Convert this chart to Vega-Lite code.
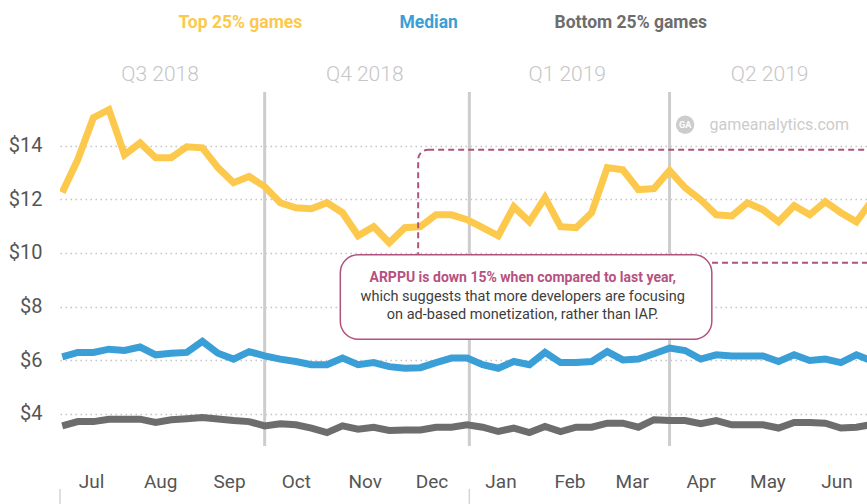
{
  "$schema": "https://vega.github.io/schema/vega-lite/v6.json",
  "width": 812,
  "height": 354,
  "autosize": {"type": "none"},
  "padding": {"left": 60, "top": 92, "right": 0, "bottom": 58},
  "background": "white",
  "config": {
    "view": {"stroke": null},
    "font": "Roboto, sans-serif"
  },
  "datasets": {
    "arppu": [
      {"week": "2018-07-02", "Top 25% games": 12.25, "Median": 6.12, "Bottom 25% games": 3.55},
      {"week": "2018-07-09", "Top 25% games": 13.48, "Median": 6.29, "Bottom 25% games": 3.71},
      {"week": "2018-07-16", "Top 25% games": 15.04, "Median": 6.29, "Bottom 25% games": 3.71},
      {"week": "2018-07-23", "Top 25% games": 15.34, "Median": 6.41, "Bottom 25% games": 3.8},
      {"week": "2018-07-30", "Top 25% games": 13.66, "Median": 6.36, "Bottom 25% games": 3.8},
      {"week": "2018-08-06", "Top 25% games": 14.1, "Median": 6.49, "Bottom 25% games": 3.8},
      {"week": "2018-08-13", "Top 25% games": 13.55, "Median": 6.2, "Bottom 25% games": 3.68},
      {"week": "2018-08-20", "Top 25% games": 13.55, "Median": 6.26, "Bottom 25% games": 3.78},
      {"week": "2018-08-27", "Top 25% games": 13.96, "Median": 6.29, "Bottom 25% games": 3.82},
      {"week": "2018-09-03", "Top 25% games": 13.92, "Median": 6.7, "Bottom 25% games": 3.86},
      {"week": "2018-09-10", "Top 25% games": 13.18, "Median": 6.26, "Bottom 25% games": 3.81},
      {"week": "2018-09-17", "Top 25% games": 12.62, "Median": 6.04, "Bottom 25% games": 3.75},
      {"week": "2018-09-24", "Top 25% games": 12.85, "Median": 6.32, "Bottom 25% games": 3.71},
      {"week": "2018-10-01", "Top 25% games": 12.47, "Median": 6.16, "Bottom 25% games": 3.55},
      {"week": "2018-10-08", "Top 25% games": 11.87, "Median": 6.04, "Bottom 25% games": 3.63},
      {"week": "2018-10-15", "Top 25% games": 11.68, "Median": 5.95, "Bottom 25% games": 3.59},
      {"week": "2018-10-22", "Top 25% games": 11.65, "Median": 5.83, "Bottom 25% games": 3.47},
      {"week": "2018-10-29", "Top 25% games": 11.87, "Median": 5.83, "Bottom 25% games": 3.3},
      {"week": "2018-11-05", "Top 25% games": 11.5, "Median": 6.08, "Bottom 25% games": 3.55},
      {"week": "2018-11-12", "Top 25% games": 10.64, "Median": 5.83, "Bottom 25% games": 3.43},
      {"week": "2018-11-19", "Top 25% games": 10.98, "Median": 5.91, "Bottom 25% games": 3.5},
      {"week": "2018-11-26", "Top 25% games": 10.38, "Median": 5.76, "Bottom 25% games": 3.38},
      {"week": "2018-12-03", "Top 25% games": 10.94, "Median": 5.7, "Bottom 25% games": 3.4},
      {"week": "2018-12-10", "Top 25% games": 10.98, "Median": 5.72, "Bottom 25% games": 3.4},
      {"week": "2018-12-17", "Top 25% games": 11.42, "Median": 5.91, "Bottom 25% games": 3.5},
      {"week": "2018-12-24", "Top 25% games": 11.42, "Median": 6.08, "Bottom 25% games": 3.5},
      {"week": "2018-12-31", "Top 25% games": 11.24, "Median": 6.08, "Bottom 25% games": 3.59},
      {"week": "2019-01-07", "Top 25% games": 10.94, "Median": 5.83, "Bottom 25% games": 3.5},
      {"week": "2019-01-14", "Top 25% games": 10.64, "Median": 5.7, "Bottom 25% games": 3.34},
      {"week": "2019-01-21", "Top 25% games": 11.72, "Median": 5.95, "Bottom 25% games": 3.47},
      {"week": "2019-01-28", "Top 25% games": 11.16, "Median": 5.83, "Bottom 25% games": 3.3},
      {"week": "2019-02-04", "Top 25% games": 12.06, "Median": 6.29, "Bottom 25% games": 3.53},
      {"week": "2019-02-11", "Top 25% games": 10.98, "Median": 5.91, "Bottom 25% games": 3.34},
      {"week": "2019-02-18", "Top 25% games": 10.94, "Median": 5.91, "Bottom 25% games": 3.5},
      {"week": "2019-02-25", "Top 25% games": 11.5, "Median": 5.95, "Bottom 25% games": 3.5},
      {"week": "2019-03-04", "Top 25% games": 13.18, "Median": 6.32, "Bottom 25% games": 3.65},
      {"week": "2019-03-11", "Top 25% games": 13.1, "Median": 6.01, "Bottom 25% games": 3.65},
      {"week": "2019-03-18", "Top 25% games": 12.36, "Median": 6.04, "Bottom 25% games": 3.5},
      {"week": "2019-03-25", "Top 25% games": 12.4, "Median": 6.24, "Bottom 25% games": 3.78},
      {"week": "2019-04-01", "Top 25% games": 13.07, "Median": 6.45, "Bottom 25% games": 3.75},
      {"week": "2019-04-08", "Top 25% games": 12.43, "Median": 6.36, "Bottom 25% games": 3.75},
      {"week": "2019-04-15", "Top 25% games": 11.98, "Median": 6.04, "Bottom 25% games": 3.63},
      {"week": "2019-04-22", "Top 25% games": 11.42, "Median": 6.2, "Bottom 25% games": 3.75},
      {"week": "2019-04-29", "Top 25% games": 11.38, "Median": 6.16, "Bottom 25% games": 3.59},
      {"week": "2019-05-06", "Top 25% games": 11.87, "Median": 6.16, "Bottom 25% games": 3.59},
      {"week": "2019-05-13", "Top 25% games": 11.61, "Median": 6.16, "Bottom 25% games": 3.59},
      {"week": "2019-05-20", "Top 25% games": 11.16, "Median": 5.95, "Bottom 25% games": 3.47},
      {"week": "2019-05-27", "Top 25% games": 11.76, "Median": 6.2, "Bottom 25% games": 3.68},
      {"week": "2019-06-03", "Top 25% games": 11.42, "Median": 5.99, "Bottom 25% games": 3.68},
      {"week": "2019-06-10", "Top 25% games": 11.91, "Median": 6.04, "Bottom 25% games": 3.65},
      {"week": "2019-06-17", "Top 25% games": 11.5, "Median": 5.91, "Bottom 25% games": 3.47},
      {"week": "2019-06-24", "Top 25% games": 11.16, "Median": 6.2, "Bottom 25% games": 3.5},
      {"week": "2019-07-01", "Top 25% games": 11.95, "Median": 5.97, "Bottom 25% games": 3.6}
    ],
    "quarters": [
      {"quarter": "Q3 2018", "start": "2018-07-01", "mid": "2018-08-15"},
      {"quarter": "Q4 2018", "start": "2018-10-01", "mid": "2018-11-15"},
      {"quarter": "Q1 2019", "start": "2019-01-01", "mid": "2019-02-14"},
      {"quarter": "Q2 2019", "start": "2019-04-01", "mid": "2019-05-16"}
    ],
    "years": [
      {"year": "2018", "start": "2018-07-01"},
      {"year": "2019", "start": "2019-01-01"}
    ],
    "note": [
      {"lead": "ARPPU is down 15% when compared to last year,", "body": "which suggests that more developers are focusing\non ad-based monetization, rather than IAP."}
    ],
    "brand": [
      {"logo": "GA", "site": "gameanalytics.com"}
    ]
  },
  "layer": [
    {
      "data": {"name": "quarters"},
      "transform": [{"filter": "datum.quarter != 'Q3 2018'"}],
      "mark": {"type": "rule", "color": "#cdcdcd", "strokeWidth": 3},
      "encoding": {
        "x": {"field": "start", "type": "temporal", "title": null}
      }
    },
    {
      "data": {"name": "years"},
      "mark": {"type": "rule", "color": "#d5d5d5", "strokeWidth": 1.5},
      "encoding": {
        "x": {"field": "start", "type": "temporal", "title": null},
        "y": {"datum": 1.2, "type": "quantitative"},
        "y2": {"datum": 0.5}
      }
    },
    {
      "data": {"name": "arppu"},
      "transform": [{"fold": ["Top 25% games", "Median", "Bottom 25% games"], "as": ["series", "arppu"]}],
      "mark": {"type": "line", "strokeWidth": 7, "clip": true},
      "encoding": {
        "x": {
          "field": "week", "type": "temporal", "title": null,
          "scale": {"type": "utc", "domain": [{"year": 2018, "month": 7, "date": 1, "utc": true}, {"year": 2019, "month": 7, "date": 1, "utc": true}]},
          "axis": {
            "values": [
              {"year": 2018, "month": 7, "date": 15, "utc": true},
              {"year": 2018, "month": 8, "date": 15, "utc": true},
              {"year": 2018, "month": 9, "date": 15, "utc": true},
              {"year": 2018, "month": 10, "date": 15, "utc": true},
              {"year": 2018, "month": 11, "date": 15, "utc": true},
              {"year": 2018, "month": 12, "date": 15, "utc": true},
              {"year": 2019, "month": 1, "date": 15, "utc": true},
              {"year": 2019, "month": 2, "date": 15, "utc": true},
              {"year": 2019, "month": 3, "date": 15, "utc": true},
              {"year": 2019, "month": 4, "date": 15, "utc": true},
              {"year": 2019, "month": 5, "date": 15, "utc": true},
              {"year": 2019, "month": 6, "date": 15, "utc": true}
            ],
            "format": "%b", "domain": false, "ticks": false, "grid": false,
            "labelFontSize": 19, "labelColor": "#555555", "labelPadding": 26
          }
        },
        "y": {
          "field": "arppu", "type": "quantitative", "title": null,
          "scale": {"domain": [2.8, 16], "nice": false, "zero": false},
          "axis": {
            "values": [4, 6, 8, 10, 12, 14], "format": "$.0f", "domain": false, "ticks": false,
            "labelFontSize": 20, "labelColor": "#555555", "labelPadding": 18,
            "grid": true, "gridColor": "#c4c4c4", "gridDash": [1.5, 3.5], "gridWidth": 1.5
          }
        },
        "color": {
          "field": "series", "type": "nominal",
          "scale": {"domain": ["Top 25% games", "Median", "Bottom 25% games"], "range": ["#fcc94d", "#3a9fd6", "#6d6d6d"]},
          "legend": {
            "title": null, "orient": "none", "direction": "horizontal", "legendX": 101, "legendY": -78,
            "symbolSize": 0, "symbolStrokeWidth": 0, "symbolOpacity": 0, "labelOffset": 0,
            "labelFontSize": 17.5, "labelFontWeight": "bold", "columnPadding": 79,
            "encode": {"labels": {"update": {"fill": {"scale": "color", "field": "value"}}}}
          }
        }
      }
    },
    {
      "data": {"values": [{"region": "highlight"}]},
      "mark": {"type": "rect", "fill": "white", "fillOpacity": 0, "stroke": "#b0527e", "strokeWidth": 2, "strokeDash": [6, 4], "cornerRadius": 10},
      "encoding": {
        "x": {"datum": {"year": 2018, "month": 12, "date": 9, "utc": true}, "type": "temporal"},
        "x2": {"datum": {"year": 2019, "month": 7, "date": 5, "utc": true}},
        "y": {"datum": 13.85, "type": "quantitative"},
        "y2": {"datum": 9.63}
      }
    },
    {
      "data": {"name": "note"},
      "mark": {"type": "rect", "fill": "white", "stroke": "#b0527e", "strokeWidth": 1.5, "cornerRadius": 18},
      "encoding": {
        "x": {"datum": {"year": 2018, "month": 11, "date": 4, "utc": true}, "type": "temporal"},
        "x2": {"datum": {"year": 2019, "month": 4, "date": 20, "utc": true}},
        "y": {"datum": 9.93, "type": "quantitative"},
        "y2": {"datum": 6.78}
      }
    },
    {
      "data": {"name": "note"},
      "mark": {"type": "text", "fontSize": 14, "fontWeight": "bold", "color": "#b5527f", "align": "center", "baseline": "middle"},
      "encoding": {
        "x": {"datum": {"year": 2019, "month": 1, "date": 25, "utc": true}, "type": "temporal"},
        "y": {"datum": 9.07, "type": "quantitative"},
        "text": {"field": "lead"}
      }
    },
    {
      "data": {"name": "note"},
      "mark": {"type": "text", "fontSize": 14.5, "color": "#3d3d3d", "align": "center", "baseline": "middle", "lineBreak": "\n", "lineHeight": 18},
      "encoding": {
        "x": {"datum": {"year": 2019, "month": 1, "date": 25, "utc": true}, "type": "temporal"},
        "y": {"datum": 8.37, "type": "quantitative"},
        "text": {"field": "body"}
      }
    },
    {
      "data": {"name": "quarters"},
      "mark": {"type": "text", "fontSize": 21, "fontWeight": 300, "color": "#c6c6c6", "align": "center", "baseline": "middle"},
      "encoding": {
        "x": {"field": "mid", "type": "temporal", "title": null},
        "y": {"datum": 16.65, "type": "quantitative"},
        "text": {"field": "quarter"}
      }
    },
    {
      "data": {"name": "brand"},
      "mark": {"type": "point", "shape": "circle", "filled": true, "color": "#cccccc", "size": 340, "opacity": 1},
      "encoding": {
        "x": {"datum": {"year": 2019, "month": 4, "date": 8, "utc": true}, "type": "temporal"},
        "y": {"datum": 14.78, "type": "quantitative"}
      }
    },
    {
      "data": {"name": "brand"},
      "mark": {"type": "text", "fontSize": 9, "fontWeight": "bold", "color": "white", "align": "center", "baseline": "middle"},
      "encoding": {
        "x": {"datum": {"year": 2019, "month": 4, "date": 8, "utc": true}, "type": "temporal"},
        "y": {"datum": 14.78, "type": "quantitative"},
        "text": {"field": "logo"}
      }
    },
    {
      "data": {"name": "brand"},
      "mark": {"type": "text", "fontSize": 16, "color": "#cccccc", "align": "left", "baseline": "middle"},
      "encoding": {
        "x": {"datum": {"year": 2019, "month": 4, "date": 19, "utc": true}, "type": "temporal"},
        "y": {"datum": 14.78, "type": "quantitative"},
        "text": {"field": "site"}
      }
    }
  ]
}
